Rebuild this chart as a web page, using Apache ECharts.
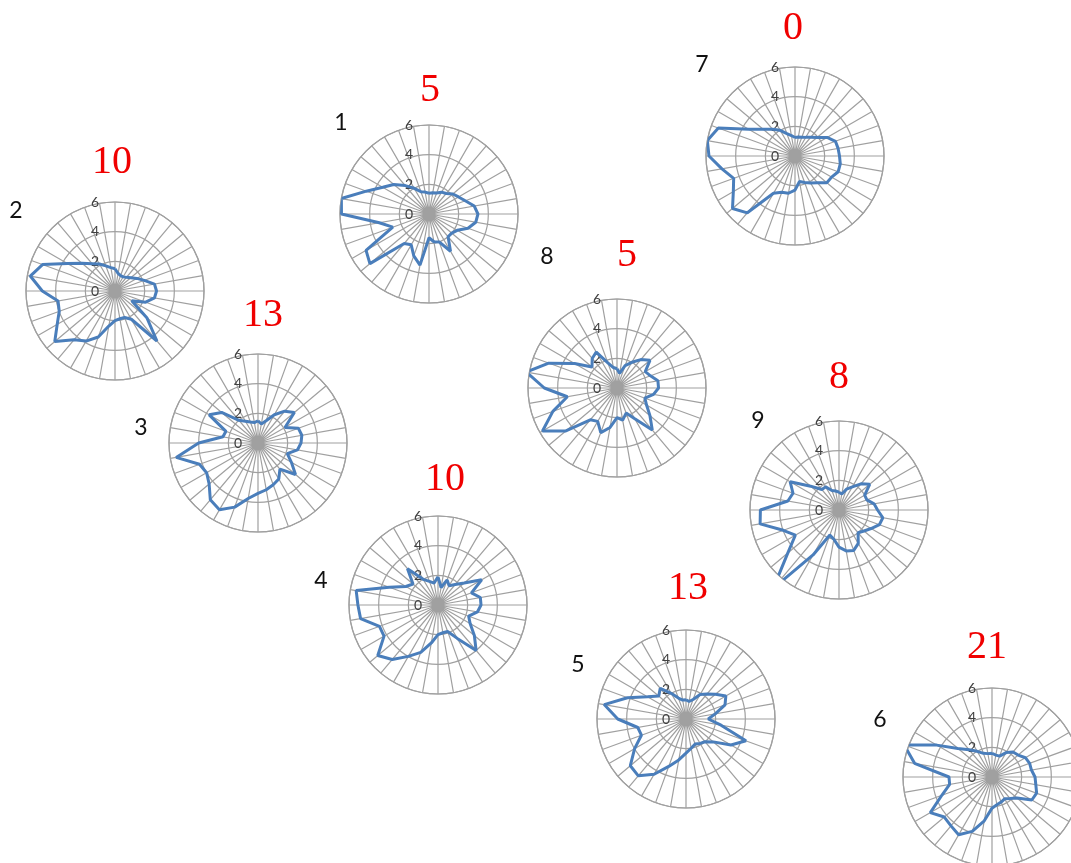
<!DOCTYPE html>
<html>
<head>
<meta charset="utf-8">
<script src="https://cdn.jsdelivr.net/npm/echarts@6/dist/echarts.min.js"></script>
<style>
  html, body { margin: 0; padding: 0; background: #ffffff; }
  #chart { width: 1071px; height: 863px; }
</style>
</head>
<body>
<div id="chart"></div>
<script>
// Direction of each spoke, degrees clockwise from north
const directions = [0, 10, 20, 30, 40, 50, 60, 70, 80, 90, 100, 110, 120, 130, 140, 150, 160, 170,
                    180, 190, 200, 210, 220, 230, 240, 250, 260, 270, 280, 290, 300, 310, 320, 330, 340, 350];

// Sample numbers and their scores
const sampleIds = ['1', '2', '3', '4', '5', '6', '7', '8', '9'];
const scores = ['5', '10', '13', '10', '13', '21', '0', '5', '8'];

// Radial profile of each sample, one value per direction
const profile1 = [1.4, 1.45, 1.5, 1.7, 1.8, 2.1, 2.3, 2.6, 3.1, 3.3, 3.2, 2.8, 2.2, 2.0, 2.0, 2.9, 2.0, 1.9,
                  1.6, 3.5, 3.0, 2.4, 2.6, 5.2, 4.9, 2.6, 3.4, 5.9, 6.0, 4.5, 3.6, 3.1, 2.5, 2.0, 1.6, 1.5];
const profile2 = [1.5, 1.2, 1.1, 1.1, 1.2, 1.4, 1.7, 2.1, 2.7, 2.8, 2.7, 2.2, 1.3, 2.8, 4.4, 2.2, 1.9, 1.9,
                  2.0, 2.4, 3.3, 3.9, 4.3, 5.3, 4.5, 4.0, 3.9, 4.9, 5.8, 5.2, 3.7, 2.9, 2.4, 2.1, 1.8, 1.6];
const profile3 = [1.5, 1.3, 1.6, 2.2, 2.8, 3.2, 2.1, 2.9, 3.0, 2.9, 2.7, 2.1, 2.6, 3.3, 2.3, 2.8, 3.0, 3.2,
                  3.4, 3.8, 4.6, 5.2, 5.0, 4.3, 4.0, 4.2, 5.6, 4.0, 2.4, 2.3, 3.8, 3.2, 2.0, 1.7, 1.5, 1.4];
const profile4 = [1.9, 1.2, 1.8, 1.5, 1.8, 2.3, 3.4, 2.4, 2.9, 2.9, 2.7, 2.2, 2.5, 3.2, 4.0, 2.6, 1.9, 1.9,
                  2.0, 2.6, 3.4, 4.0, 4.8, 5.3, 4.2, 4.2, 5.3, 5.4, 5.6, 3.5, 2.5, 2.2, 3.2, 2.0, 1.7, 1.5];
const profile5 = [1.3, 1.2, 1.4, 1.9, 2.2, 2.6, 3.1, 2.8, 2.0, 1.5, 2.4, 4.3, 3.5, 2.4, 2.0, 1.9, 1.8, 2.0,
                  2.3, 2.8, 3.4, 4.3, 5.0, 4.9, 4.0, 3.2, 3.3, 4.6, 5.6, 4.2, 3.0, 2.4, 2.7, 2.0, 1.5, 1.3];
const profile6 = [1.6, 1.5, 1.5, 1.9, 2.2, 2.3, 2.6, 2.7, 2.7, 2.9, 3.0, 3.2, 3.1, 2.2, 1.9, 1.7, 1.8, 1.9,
                  2.1, 3.0, 3.9, 4.5, 4.3, 4.2, 4.8, 3.6, 2.9, 2.9, 5.3, 6.3, 4.3, 3.0, 2.4, 2.0, 1.7, 1.6];
const profile7 = [1.25, 1.3, 1.35, 1.45, 1.65, 1.95, 2.5, 2.9, 2.95, 3.0, 3.1, 3.1, 2.85, 2.8, 2.35, 2.1, 1.9, 1.75,
                  2.3, 2.55, 2.6, 2.9, 5.0, 5.5, 4.8, 4.4, 5.0, 5.8, 6.0, 5.5, 3.6, 2.8, 2.35, 2.0, 1.6, 1.4];
const profile8 = [1.3, 1.0, 1.6, 2.0, 2.5, 2.9, 2.2, 2.4, 2.8, 2.8, 2.5, 2.0, 2.3, 2.9, 3.7, 2.4, 1.8, 2.2,
                  2.0, 2.7, 3.2, 2.6, 2.8, 4.5, 5.8, 4.6, 3.4, 4.9, 6.2, 4.9, 3.3, 2.2, 2.6, 2.8, 1.8, 1.4];
const profile9 = [1.2, 1.1, 1.5, 1.8, 2.3, 2.7, 2.0, 2.0, 2.4, 2.6, 3.0, 2.9, 2.5, 2.2, 2.0, 2.6, 2.9, 2.8,
                  2.5, 2.0, 1.8, 3.5, 6.9, 4.5, 3.4, 4.0, 5.4, 5.3, 3.5, 3.3, 3.8, 2.5, 1.8, 1.8, 1.4, 1.3];

const profiles = [profile1, profile2, profile3, profile4, profile5, profile6, profile7, profile8, profile9];

// Placement of each small rose on the page (pixels)
const layout = [
  { center: [429, 214], idPos: [341, 123], scorePos: [430, 90] },
  { center: [115, 291], idPos: [16, 211], scorePos: [112, 162] },
  { center: [258, 443], idPos: [141, 428], scorePos: [263, 315] },
  { center: [438, 605], idPos: [321, 581], scorePos: [445, 479] },
  { center: [686, 719], idPos: [578, 665], scorePos: [688, 588] },
  { center: [992, 777], idPos: [880, 720], scorePos: [987, 647] },
  { center: [795, 156], idPos: [702, 65], scorePos: [793, 28] },
  { center: [617, 388], idPos: [547, 257], scorePos: [627, 255] },
  { center: [839, 510], idPos: [758, 421], scorePos: [839, 377] }
];

const RADIUS = 89;
const gridColor = '#a0a0a0';
const lineColor = '#4a7ebb';

const polar = [], angleAxis = [], radiusAxis = [], series = [], graphic = [];

profiles.forEach((values, i) => {
  const lay = layout[i];
  polar.push({ center: lay.center, radius: RADIUS });
  angleAxis.push({
    polarIndex: i,
    type: 'value',
    min: 0, max: 360, interval: 10,
    startAngle: 90, clockwise: true,
    axisLine: { show: true, lineStyle: { color: gridColor, width: 1.2 } },
    axisTick: { show: false },
    axisLabel: { show: false },
    splitLine: { show: true, lineStyle: { color: gridColor, width: 1.2 } }
  });
  radiusAxis.push({
    polarIndex: i,
    type: 'value',
    min: 0, max: 6, interval: 2,
    axisLine: { show: false },
    axisTick: { show: false },
    axisLabel: { show: true, fontSize: 14, color: '#404040', fontFamily: 'Lato', margin: 16 },
    splitLine: { show: true, lineStyle: { color: gridColor, width: 1.2 } }
  });
  const pts = values.map((v, k) => [v, directions[k]]);
  pts.push([values[0], 360]);
  series.push({
    type: 'line',
    coordinateSystem: 'polar',
    polarIndex: i,
    data: pts,
    showSymbol: false,
    clip: false,
    silent: true,
    animation: false,
    lineStyle: { color: lineColor, width: 3 }
  });
  graphic.push({
    type: 'text', x: lay.idPos[0], y: lay.idPos[1],
    style: { text: sampleIds[i], fontSize: 23, fontFamily: 'Lato', fill: '#111111', align: 'center', verticalAlign: 'middle' }
  });
  graphic.push({
    type: 'text', x: lay.scorePos[0], y: lay.scorePos[1],
    style: { text: scores[i], fontSize: 40, fontFamily: 'Liberation Serif', fill: '#f00000', align: 'center', verticalAlign: 'middle' }
  });
});

const chart = echarts.init(document.getElementById('chart'), null, { renderer: 'canvas' });
chart.setOption({
  animation: false,
  backgroundColor: '#ffffff',
  polar, angleAxis, radiusAxis, series, graphic
});
</script>
</body>
</html>
